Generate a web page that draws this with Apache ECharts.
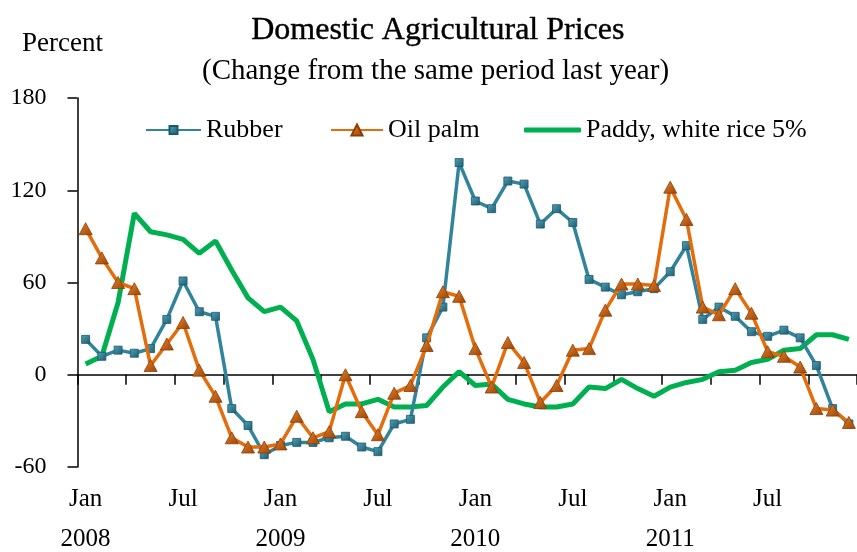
<!DOCTYPE html>
<html>
<head>
<meta charset="utf-8">
<script src="https://cdn.jsdelivr.net/npm/echarts@6/dist/echarts.min.js"></script>
<style>
html,body{margin:0;padding:0;background:#fff;}
#chart{width:857px;height:552px;}
</style>
</head>
<body>
<div id="chart"></div>
<script>
const months = [];
const monthNames = ['Jan','Feb','Mar','Apr','May','Jun','Jul','Aug','Sep','Oct','Nov','Dec'];
const years = ['2008','2009','2010','2011'];
years.forEach(y => monthNames.forEach(m => months.push(m + ' ' + y)));

const yTicks = [-60, 0, 60, 120, 180];

const rubber = [23,12,16,14,17,36,61,41,38,-22,-33,-52,
  -46,-44,-44,-41,-40,-47,-50,-32,-29,24,44,138,
  113,108,126,124,98,108,99,62,57,52,54,56,
  67,84,36,44,38,28,25,29,24,6,-22,-32];

const oilPalm = [95,76,60,56,6,20,34,3,-14,-41,-47,-47,
  -45,-27,-41,-37,0,-24,-39,-12,-7,19,54,51,
  17,-8,21,8,-18,-7,16,17,42,59,59,58,
  122,101,44,39,56,40,15,12,5,-22,-23,-31];

const paddy = [7,12,47,105,93,91,88,79,87,68,50,41,
  44,35,10,-24,-19,-19,-16,-21,-21,-20,-8,2,
  -7,-6,-16,-19,-21,-21,-19,-8,-9,-3,-9,-14,
  -8,-5,-3,2,3,8,10,16,17,26,26,23];

const FONT = '"Liberation Serif", "Times New Roman", serif';

const chart = echarts.init(document.getElementById('chart'), null, {renderer:'canvas'});

function grad(c1, c2){
  return new echarts.graphic.LinearGradient(0,0,1,1,[{offset:0,color:c1},{offset:1,color:c2}]);
}

const option = {
  backgroundColor: '#ffffff',
  animation: false,
  grid: {left: 77.5, top: 98, width: 788.6, height: 369.5, containLabel: false},
  graphic: [
    {type:'text', left: 251, top: 14, style:{text:'Domestic Agricultural Prices', font:'32px ' + FONT, fill:'#000', stroke:'#000', lineWidth:0.4}},
    {type:'text', left: 202, top: 57, style:{text:'(Change from the same period last year)', font:'29px ' + FONT, fill:'#000'}},
    {type:'text', left: 22, top: 30, style:{text:'Percent', font:'27px ' + FONT, fill:'#000'}}
  ],
  legend: [
    {data:['Rubber'], left: 140, top: 112, itemWidth: 55, itemHeight: 10, textStyle:{fontFamily:FONT, fontSize:26, color:'#000'}},
    {data:['Oil palm'], left: 325, top: 112, itemWidth: 52, itemHeight: 14, textStyle:{fontFamily:FONT, fontSize:26, color:'#000'}},
    {data:[{name:'Paddy, white rice 5%', icon:'roundRect'}], left: 519, top: 112, itemWidth: 57, itemHeight: 5, textStyle:{fontFamily:FONT, fontSize:26, color:'#000'}}
  ],
  xAxis: {
    type: 'category',
    data: months,
    boundaryGap: true,
    axisLine: {show:true, lineStyle:{color:'#000', width:1.5}},
    axisTick: {show:true, interval: 2, length: 10, lineStyle:{color:'#000', width:1.5}},
    axisLabel: {
      interval: 5,
      margin: 12,
      color: '#000',
      fontFamily: FONT,
      fontSize: 25,
      formatter: function(v){
        const p = v.split(' ');
        if (p[0] === 'Jan') return '{m|' + p[0] + '}\n{y|' + p[1] + '}';
        return '{m|' + p[0] + '}';
      },
      rich: {
        m: {fontFamily: FONT, fontSize: 25, lineHeight: 40, color:'#000'},
        y: {fontFamily: FONT, fontSize: 25, lineHeight: 41, color:'#000'}
      }
    },
    splitLine: {show:false}
  },
  yAxis: {
    type: 'value',
    min: yTicks[0],
    max: yTicks[yTicks.length-1],
    interval: 60,
    axisLine: {show:true, lineStyle:{color:'#000', width:1.5}},
    axisTick: {show:true, length: 10, lineStyle:{color:'#000', width:1.5}},
    axisLabel: {margin: 31, color:'#000', fontFamily: FONT, fontSize: 24},
    splitLine: {show:false}
  },
  series: [
    {
      name: 'Rubber', type: 'line', data: rubber,
      symbol: 'rect', symbolSize: 8, showSymbol: true, showAllSymbol: true,
      lineStyle: {color:'#31849B', width: 3.5},
      itemStyle: {color: grad('#4FA3BB', '#1D5C6E'), borderColor:'#1F5868', borderWidth: 0.8},
      z: 3
    },
    {
      name: 'Oil palm', type: 'line', data: oilPalm,
      symbol: 'triangle', symbolSize: [13, 12], showSymbol: true, showAllSymbol: true,
      lineStyle: {color:'#E46C0A', width: 3.5},
      itemStyle: {color: grad('#E8842E', '#9A4406'), borderColor:'#8B3E05', borderWidth: 0.8},
      z: 4
    },
    {
      name: 'Paddy, white rice 5%', type: 'line', data: paddy,
      symbol: 'none', showSymbol: false,
      lineStyle: {color:'#00B050', width: 5},
      itemStyle: {color:'#00B050'},
      z: 2
    }
  ]
};
chart.setOption(option);
</script>
</body>
</html>
